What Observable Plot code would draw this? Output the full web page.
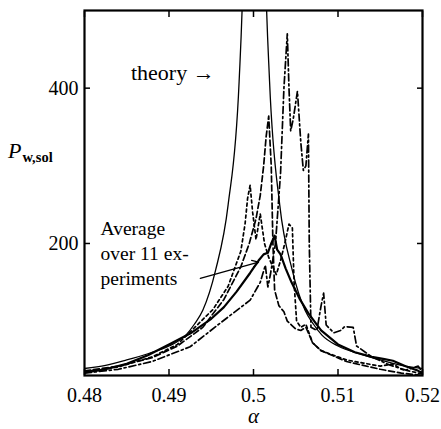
<!DOCTYPE html>
<html>
<head>
<meta charset="utf-8">
<script src="https://cdn.jsdelivr.net/npm/d3@7"></script>
<script src="https://cdn.jsdelivr.net/npm/@observablehq/plot@0.6"></script>
<style>
  html, body { margin: 0; padding: 0; background: #fff; }
  #chart { width: 441px; height: 429px; }
</style>
</head>
<body>
<div id="chart"></div>
<script>
// ---- data ----
const xTicks = [0.48, 0.49, 0.5, 0.51, 0.52];
const yTicks = [200, 400];

const theoryAlpha = [0.480, 0.4825, 0.485, 0.4875, 0.490, 0.492, 0.493, 0.494, 0.4955, 0.497, 0.4983, 0.4988, 0.4993, 0.5001, 0.5009, 0.5014, 0.5019, 0.5031, 0.5046, 0.5061, 0.5071, 0.5081, 0.510, 0.5125, 0.515, 0.5175, 0.520];
const theoryP     = [39, 43, 50, 58, 68, 82, 96, 114, 165, 250, 409, 560, 900, 1400, 900, 560, 409, 250, 165, 114, 96, 82, 68, 58, 50, 43, 39];

const avgAlpha = [0.480, 0.4825, 0.485, 0.4875, 0.490, 0.4925, 0.495, 0.4965, 0.498, 0.4996, 0.5006, 0.5012, 0.5017, 0.5021, 0.5025, 0.5028, 0.5032, 0.5038, 0.5045, 0.5055, 0.5065, 0.508, 0.510, 0.512, 0.514, 0.5155, 0.5165, 0.518, 0.5195, 0.520];
const avgP     = [34, 38, 45, 56, 70, 84, 103, 118, 138, 162, 178, 186, 188, 200, 210, 192, 186, 168, 150, 128, 110, 88, 70, 60, 54, 51, 49, 42, 36, 33];

const exp1Alpha = [0.480, 0.484, 0.488, 0.491, 0.494, 0.4965, 0.4985, 0.4995, 0.5003, 0.5008, 0.5012, 0.5015, 0.5018, 0.5021, 0.5023, 0.5025, 0.5030, 0.5036, 0.5040, 0.5045, 0.5050, 0.5056, 0.5062, 0.507, 0.508, 0.5095, 0.511, 0.513, 0.515, 0.5175, 0.520];
const exp1P     = [36, 42, 53, 68, 92, 128, 170, 200, 232, 262, 300, 338, 364, 300, 200, 140, 120, 112, 100, 95, 90, 88, 92, 72, 62, 55, 48, 43, 38, 33, 30];

const exp2Alpha = [0.480, 0.484, 0.488, 0.491, 0.4952, 0.4970, 0.4985, 0.4990, 0.4993, 0.4996, 0.4999, 0.5003, 0.5008, 0.5013, 0.5018, 0.5022, 0.5027, 0.5032, 0.5037, 0.5042, 0.5046, 0.5048, 0.5051, 0.5056, 0.5062, 0.507, 0.508, 0.509, 0.511, 0.513, 0.515, 0.5165, 0.5175, 0.520];
const exp2P     = [35, 41, 54, 70, 115, 145, 190, 225, 258, 275, 240, 205, 238, 200, 182, 172, 160, 178, 200, 225, 220, 150, 100, 92, 96, 72, 62, 58, 50, 46, 42, 45, 38, 32];

const exp3Alpha = [0.480, 0.484, 0.488, 0.4925, 0.496, 0.4996, 0.5008, 0.5014, 0.5017, 0.5020, 0.5026, 0.5032, 0.5036, 0.5040, 0.5042, 0.5044, 0.5047, 0.5052, 0.5056, 0.5059, 0.5062, 0.5065, 0.5066, 0.5068, 0.5075, 0.5080, 0.5083, 0.5086, 0.5095, 0.5103, 0.5108, 0.5118, 0.5122, 0.514, 0.516, 0.518, 0.5195, 0.520];
const exp3P     = [33, 38, 48, 67, 97, 127, 150, 172, 144, 160, 200, 290, 400, 470, 400, 345, 360, 396, 330, 294, 300, 341, 200, 92, 88, 120, 136, 95, 85, 88, 93, 92, 68, 54, 44, 37, 42, 34];

// annotations
const theoryLabel = ["theory \u2192"];
const theoryLabelAlpha = [0.4855];
const theoryLabelP = [419];
const avgLabelLines = ["Average", "over 11 ex-", "periments"];
const avgLabelAlpha = [0.4819, 0.4819, 0.4819];
const avgLabelP = [219, 187, 155];
const arrowAlpha = [0.4937, 0.5006];
const arrowP = [155, 176];

const zip = (xs, ys) => xs.map((a, i) => ({a, p: ys[i]}));
const theory = zip(theoryAlpha, theoryP);
const avg = zip(avgAlpha, avgP);
const exp1 = zip(exp1Alpha, exp1P);
const exp2 = zip(exp2Alpha, exp2P);
const exp3 = zip(exp3Alpha, exp3P);

const serif = "'Liberation Serif', 'DejaVu Serif', serif";

const plot = Plot.plot({
  width: 441,
  height: 429,
  marginLeft: 84,
  marginRight: 19,
  marginTop: 10,
  marginBottom: 54,
  style: {fontFamily: serif, fontSize: "20px", background: "white", color: "black"},
  x: {domain: [0.48, 0.52]},
  y: {domain: [30, 500]},
  marks: [
    Plot.line(theory, {x: "a", y: "p", stroke: "black", strokeWidth: 1.3, curve: "monotone-x", clip: true}),
    Plot.line(exp3, {x: "a", y: "p", stroke: "black", strokeWidth: 1.7, strokeDasharray: "7,3,2,3", clip: true}),
    Plot.line(exp2, {x: "a", y: "p", stroke: "black", strokeWidth: 1.7, strokeDasharray: "3,3", clip: true}),
    Plot.line(exp1, {x: "a", y: "p", stroke: "black", strokeWidth: 1.7, strokeDasharray: "6,3", clip: true}),
    Plot.line(avg, {x: "a", y: "p", stroke: "black", strokeWidth: 2.2, clip: true}),
    Plot.frame({stroke: "black", strokeWidth: 2.2}),
    Plot.axisX({ticks: xTicks, tickSize: -6, tickPadding: 18, tickFormat: d => String(d), label: null, strokeWidth: 1.5}),
    Plot.axisX({anchor: "top", ticks: xTicks, tickSize: -6, tickFormat: () => "", label: null, strokeWidth: 1.5}),
    Plot.axisY({ticks: yTicks, tickSize: -6, tickPadding: 12, label: null, strokeWidth: 1.5}),
    Plot.axisY({anchor: "right", ticks: yTicks, tickSize: -6, tickFormat: () => "", label: null, strokeWidth: 1.5}),
    Plot.text(theoryLabel, {x: theoryLabelAlpha, y: theoryLabelP, text: d => d, textAnchor: "start", fontSize: 22, fill: "black"}),
    Plot.text(avgLabelLines, {x: avgLabelAlpha, y: avgLabelP, text: d => d, textAnchor: "start", fontSize: 19.5, fill: "black"}),
    Plot.arrow([0], {x1: arrowAlpha[0], y1: arrowP[0], x2: arrowAlpha[1], y2: arrowP[1], stroke: "black", strokeWidth: 1.2, headLength: 9}),
    Plot.text(["\u03b1"], {frameAnchor: "bottom", dy: 47, text: d => d, fontStyle: "italic", fontSize: 21, fill: "black"})
  ]
});

// y-axis label with subscript
const svg = d3.select(plot);
const lab = svg.append("text")
  .attr("x", 8).attr("y", 158)
  .attr("text-anchor", "start")
  .attr("font-family", serif)
  .attr("fill", "black");
lab.append("tspan").attr("font-style", "italic").attr("font-size", 22).text("P");
lab.append("tspan").attr("font-size", 14.5).attr("font-weight", "bold").attr("dy", 4).attr("dx", 1).text("w,sol");

document.getElementById("chart").appendChild(plot);
</script>
</body>
</html>
